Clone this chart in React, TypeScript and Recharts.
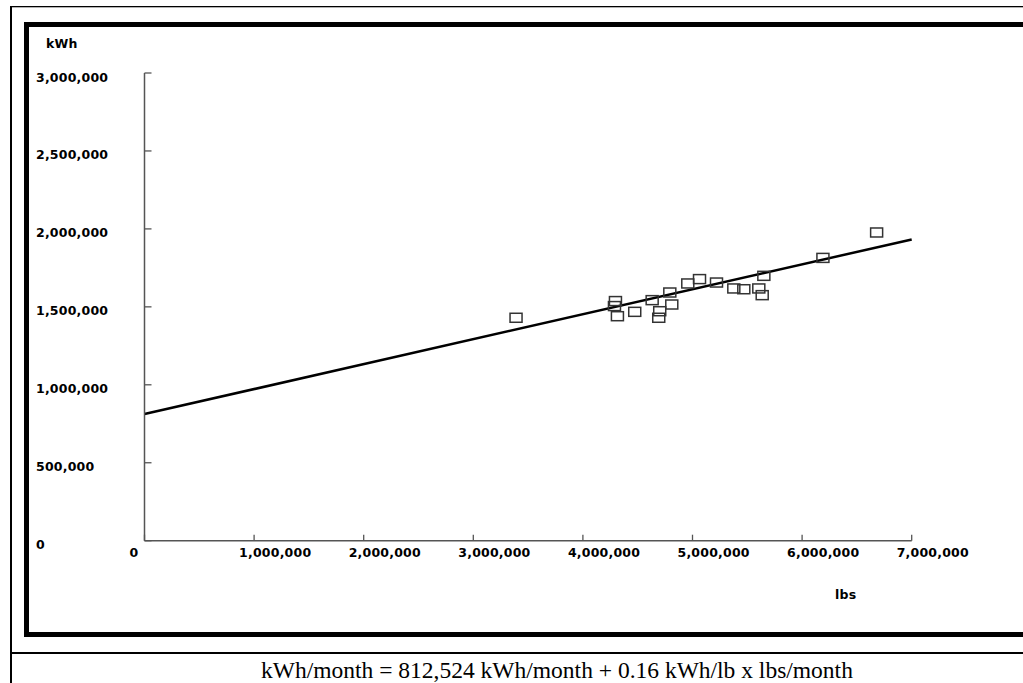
import React from "react";
import { ScatterChart, Scatter, XAxis, YAxis, ReferenceLine } from "recharts";

// monthly production (lbs) and electricity use (kWh)
const lbsPerMonth = [
  3390000, 4297000, 4288000, 4315000, 4473000, 4632000, 4793000, 4811000,
  4701000, 4692000, 4957000, 5064000, 5219000, 5377000, 5468000, 5651000,
  5605000, 5636000, 6190000, 6680000,
];
const kwhPerMonth = [
  1430000, 1537000, 1505000, 1440000, 1468000, 1543000, 1592000, 1515000,
  1472000, 1430000, 1650000, 1678000, 1656000, 1618000, 1613000, 1699000,
  1618000, 1575000, 1814000, 1977000,
];

const xTicks = [0, 1000000, 2000000, 3000000, 4000000, 5000000, 6000000, 7000000];
const yTicks = [0, 500000, 1000000, 1500000, 2000000, 2500000, 3000000];

// fitted line: kWh = 812,524 + 0.16 * lbs
const INTERCEPT = 812524;
const SLOPE = 0.16;
const X_MAX = 7000000;

const AXIS = "#555";
const tickFont: React.CSSProperties = {
  fontFamily: "'DejaVu Sans', sans-serif",
  fontWeight: 700,
  fontSize: 12.5,
  letterSpacing: 0.2,
  fill: "#000",
};

const fmt = (v: number) => v.toLocaleString("en-US");

const points = lbsPerMonth.map((x, i) => ({ lbs: x, kwh: kwhPerMonth[i] }));

function XTick({ x, y, payload }: any) {
  return (
    <g>
      <line x1={x} y1={y} x2={x} y2={y - 6} stroke={AXIS} strokeWidth={1.3} />
      <text x={x - 15} y={y + 16} textAnchor="start" style={tickFont}>
        {fmt(payload.value)}
      </text>
    </g>
  );
}

function YTick({ x, y, payload }: any) {
  return (
    <g>
      <line x1={x} y1={y} x2={x + 7} y2={y} stroke={AXIS} strokeWidth={1.3} />
      <text x={36} y={y + 8.5} textAnchor="start" style={tickFont}>
        {fmt(payload.value)}
      </text>
    </g>
  );
}

function BoxMarker({ cx, cy }: any) {
  return (
    <rect
      x={cx - 6}
      y={cy - 4.5}
      width={12}
      height={9}
      fill="none"
      stroke="#333"
      strokeWidth={1.5}
    />
  );
}

export default function App() {
  return (
    <div
      style={{
        position: "absolute",
        left: 0,
        top: 0,
        width: 1023,
        height: 683,
        overflow: "hidden",
        background: "#fff",
      }}
    >
      <svg
        width={1023}
        height={683}
        style={{ position: "absolute", left: 0, top: 0 }}
      >
        {/* table rules */}
        <rect x={10} y={6} width={1100} height={1.3} fill="#000" />
        <rect x={10} y={6} width={2} height={700} fill="#000" />
        <rect x={10} y={652} width={1100} height={2} fill="#000" />
        {/* chart frame */}
        <rect
          x={26.5}
          y={24.5}
          width={1100}
          height={610}
          fill="none"
          stroke="#000"
          strokeWidth={5}
        />
        <text x={46} y={47.5} style={tickFont}>
          kWh
        </text>
        <text x={835} y={599} style={tickFont}>
          lbs
        </text>
        <text
          x={557}
          y={678}
          textAnchor="middle"
          style={{ fontFamily: "'Liberation Serif', serif", fontSize: 23.5, fill: "#000" }}
        >
          kWh/month = 812,524 kWh/month + 0.16 kWh/lb x lbs/month
        </text>
      </svg>
      <div style={{ position: "absolute", left: 0, top: 0 }}>
        <ScatterChart
          width={1023}
          height={683}
          margin={{ top: 73, right: 111.3, bottom: 112.3, left: 34.5 }}
        >
          <XAxis
            type="number"
            dataKey="lbs"
            domain={[0, X_MAX]}
            ticks={xTicks}
            interval={0}
            height={30}
            tickSize={0}
            tickMargin={0}
            tickLine={false}
            axisLine={{ stroke: AXIS, strokeWidth: 1.5 }}
            tick={<XTick />}
          />
          <YAxis
            type="number"
            dataKey="kwh"
            domain={[0, 3000000]}
            ticks={yTicks}
            interval={0}
            width={110}
            tickSize={0}
            tickMargin={0}
            tickLine={false}
            axisLine={{ stroke: AXIS, strokeWidth: 1.5 }}
            tick={<YTick />}
          />
          <ReferenceLine
            segment={[
              { x: 0, y: INTERCEPT },
              { x: X_MAX, y: INTERCEPT + SLOPE * X_MAX },
            ]}
            stroke="#000"
            strokeWidth={2.5}
          />
          <Scatter
            data={points}
            shape={<BoxMarker />}
            isAnimationActive={false}
          />
        </ScatterChart>
      </div>
    </div>
  );
}
